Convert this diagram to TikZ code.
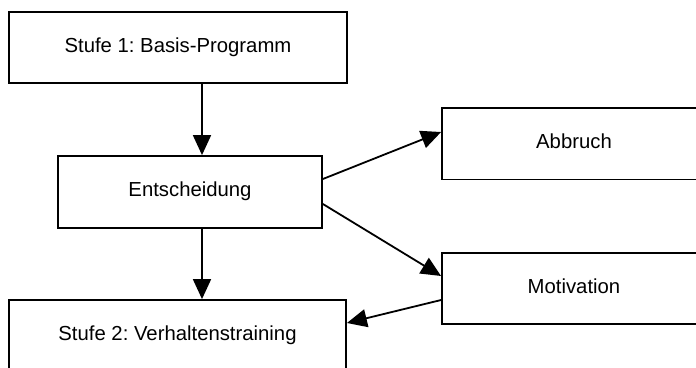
\documentclass[tikz,border=0pt]{standalone}
\usepackage{fontspec}
\setmainfont{Liberation Sans}
\usetikzlibrary{arrows.meta}
\begin{document}
\begin{tikzpicture}[x=1pt,y=-1pt,
  box/.style={draw=black, line width=1.8pt, fill=white, inner sep=0pt,
    font=\fontsize{20.3}{24}\selectfont, text height=9pt, text depth=0pt},
  arr/.style={line width=1.8pt, -{Triangle[length=20pt,width=18pt]}}]
\useasboundingbox (0,0) rectangle (696,367);
\fill[white] (0,0) rectangle (696,367);
\clip (0,0) rectangle (696,367);
\node[box, minimum width=338pt, minimum height=71pt] (b1) at (178,47.5) {Stufe 1:\ Basis-Programm};
\node[box, minimum width=264pt, minimum height=72pt] (ent) at (190,192) {Entscheidung};
\node[box, minimum width=337pt, minimum height=72pt] (s2) at (177.5,336) {Stufe 2:\ Verhaltenstraining};
\node[box, minimum width=264pt, minimum height=71.5pt] (abb) at (574,143.75) {Abbruch};
\node[box, minimum width=264pt, minimum height=71pt] (mot) at (574,288.5) {Motivation};
\draw[arr] ([xshift=24pt]b1.south) -- ([xshift=12pt]ent.north);
\draw[arr] ([xshift=12pt]ent.south) -- ([xshift=24.5pt]s2.north);
\draw[arr] ([yshift=13pt]ent.east) -- ([yshift=11.75pt]abb.west);
\draw[arr] ([yshift=-12pt]ent.east) -- ([yshift=12.5pt]mot.west);
\draw[arr] ([yshift=-11.5pt]mot.west) -- ([yshift=13pt]s2.east);
\end{tikzpicture}
\end{document}
